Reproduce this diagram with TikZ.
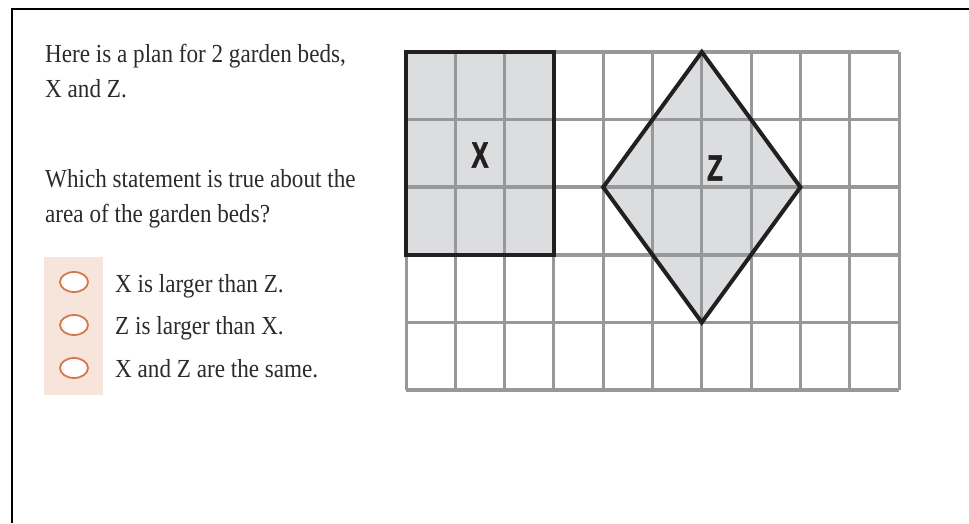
\documentclass[tikz,border=0pt]{standalone}
\usepackage{fontspec}
\setmainfont{Liberation Serif}
\newfontfamily\qfont[FakeStretch=0.89]{Liberation Serif}
\newfontfamily\lblfont[FakeStretch=0.7,FakeBold=1.6]{Liberation Sans Bold}
\usetikzlibrary{shapes.geometric}
\definecolor{txt}{HTML}{2B2B2B}
\definecolor{gridc}{HTML}{97989A}
\definecolor{bedfill}{HTML}{DCDDDF}
\definecolor{outl}{HTML}{231F20}
\definecolor{optbg}{HTML}{F7E4DA}
\definecolor{optc}{HTML}{D8774C}
\tikzset{
  qtext/.style={anchor=base west, inner sep=0pt, text=txt, font=\qfont\fontsize{26}{30}\selectfont},
  bedlabel/.style={anchor=center, inner sep=0pt, text=outl, font=\lblfont\fontsize{36.5}{40}\selectfont},
  radio/.style={ellipse, draw=optc, line width=1.8pt, fill=white, minimum width=28pt, minimum height=20pt, inner sep=0pt},
  bedline/.style={draw=outl, line width=4pt, line join=miter},
  vgrid/.style={draw=gridc, line width=3pt},
  hgrid/.style={draw=gridc, line width=3.5pt}
}
\begin{document}
\begin{tikzpicture}[x=1pt,y=-1pt]
\useasboundingbox (0,0) rectangle (969,523);
% frame
\draw[line width=2.4pt, black] (12,523) -- (12,9) -- (969,9);
% question text
\node[qtext] (l1) at (45,62) {Here is a plan for 2 garden beds,};
\node[qtext] (l2) at (45,97) {X and Z.};
\node[qtext] (l3) at (45,187) {Which statement is true about the};
\node[qtext] (l4) at (45,222) {area of the garden beds?};
% options
\fill[optbg] (44,257) rectangle (103,395);
\node[radio] (r1) at (74,282) {};
\node[radio] (r2) at (74,325) {};
\node[radio] (r3) at (74,368) {};
\node[qtext] (o1) at (115,292) {X is larger than Z.};
\node[qtext] (o2) at (115,334.5) {Z is larger than X.};
\node[qtext] (o3) at (115,377) {X and Z are the same.};
% grid
\begin{scope}[shift={(406,52)}, x=49.3pt, y=-67.6pt]
  \fill[bedfill] (0,0) rectangle (3,3);
  \fill[bedfill] (6,0) -- (8,2) -- (6,4) -- (4,2) -- cycle;
  \foreach \i in {0,...,10} { \draw[vgrid] (\i,0) -- (\i,5); }
  \foreach \j in {0,...,5} { \draw[hgrid] (0,\j) -- (10,\j); }
  \draw[bedline] (0,0) rectangle (3,3);
  \draw[bedline] (6,0) -- (8,2) -- (6,4) -- (4,2) -- cycle;
\end{scope}
\node[bedlabel] (X) at (480,155) {X};
\node[bedlabel] (Z) at (715,168) {Z};
\end{tikzpicture}
\end{document}
